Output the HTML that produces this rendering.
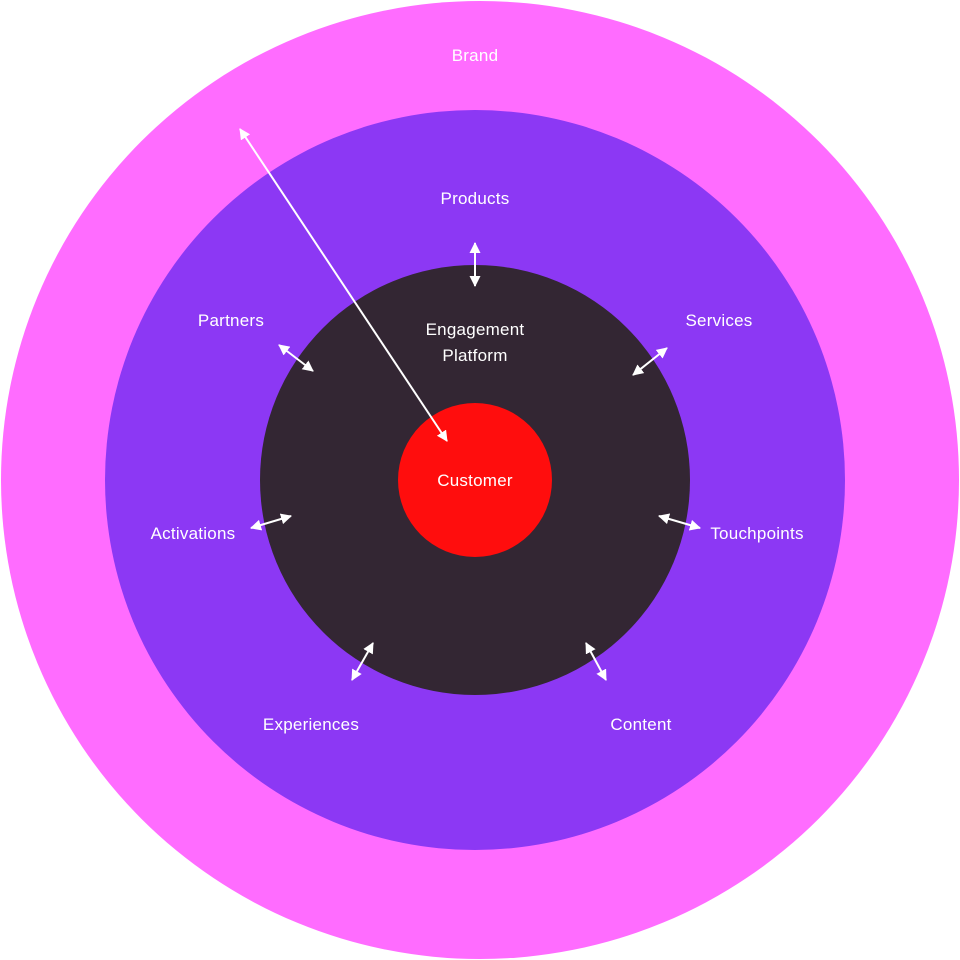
<!DOCTYPE html>
<html><head><meta charset="utf-8">
<style>html,body{margin:0;padding:0;background:#fff}svg{display:block}
text{font-family:"Liberation Sans",Arial,sans-serif;font-size:17px;letter-spacing:.24px;fill:#fff;text-anchor:middle}</style>
</head><body>
<svg width="960" height="960" viewBox="0 0 960 960" xmlns="http://www.w3.org/2000/svg">
<defs>
<marker id="a" viewBox="0 0 11 11" refX="10" refY="5.5" markerWidth="11" markerHeight="11" markerUnits="userSpaceOnUse" orient="auto-start-reverse"><path d="M0 0L11 5.5L0 11Z" fill="#fff"/></marker>
</defs>
<circle cx="480" cy="480" r="479" fill="#ff6cff"/>
<circle cx="475" cy="480" r="370" fill="#8c38f4"/>
<circle cx="475" cy="480" r="215" fill="#332633"/>
<circle cx="475" cy="480" r="77" fill="#ff0d0d"/>
<g stroke="#fff" stroke-width="2" fill="none">
<line x1="240" y1="129" x2="447" y2="441" marker-start="url(#a)" marker-end="url(#a)"/>
<line x1="475" y1="243" x2="475" y2="286" marker-start="url(#a)" marker-end="url(#a)"/>
<line x1="279" y1="345" x2="313" y2="371" marker-start="url(#a)" marker-end="url(#a)"/>
<line x1="667" y1="348" x2="633" y2="375" marker-start="url(#a)" marker-end="url(#a)"/>
<line x1="251" y1="528" x2="291" y2="516" marker-start="url(#a)" marker-end="url(#a)"/>
<line x1="700" y1="528" x2="659" y2="516" marker-start="url(#a)" marker-end="url(#a)"/>
<line x1="352" y1="680" x2="373" y2="643" marker-start="url(#a)" marker-end="url(#a)"/>
<line x1="606" y1="680" x2="586" y2="643" marker-start="url(#a)" marker-end="url(#a)"/>
</g>
<text x="475" y="61">Brand</text>
<text x="475" y="204">Products</text>
<text x="475" y="335">Engagement</text>
<text x="475" y="361">Platform</text>
<text x="231" y="326">Partners</text>
<text x="719" y="326">Services</text>
<text x="475" y="486">Customer</text>
<text x="193" y="539">Activations</text>
<text x="757" y="539">Touchpoints</text>
<text x="311" y="730">Experiences</text>
<text x="641" y="730">Content</text>
</svg>
</body></html>
